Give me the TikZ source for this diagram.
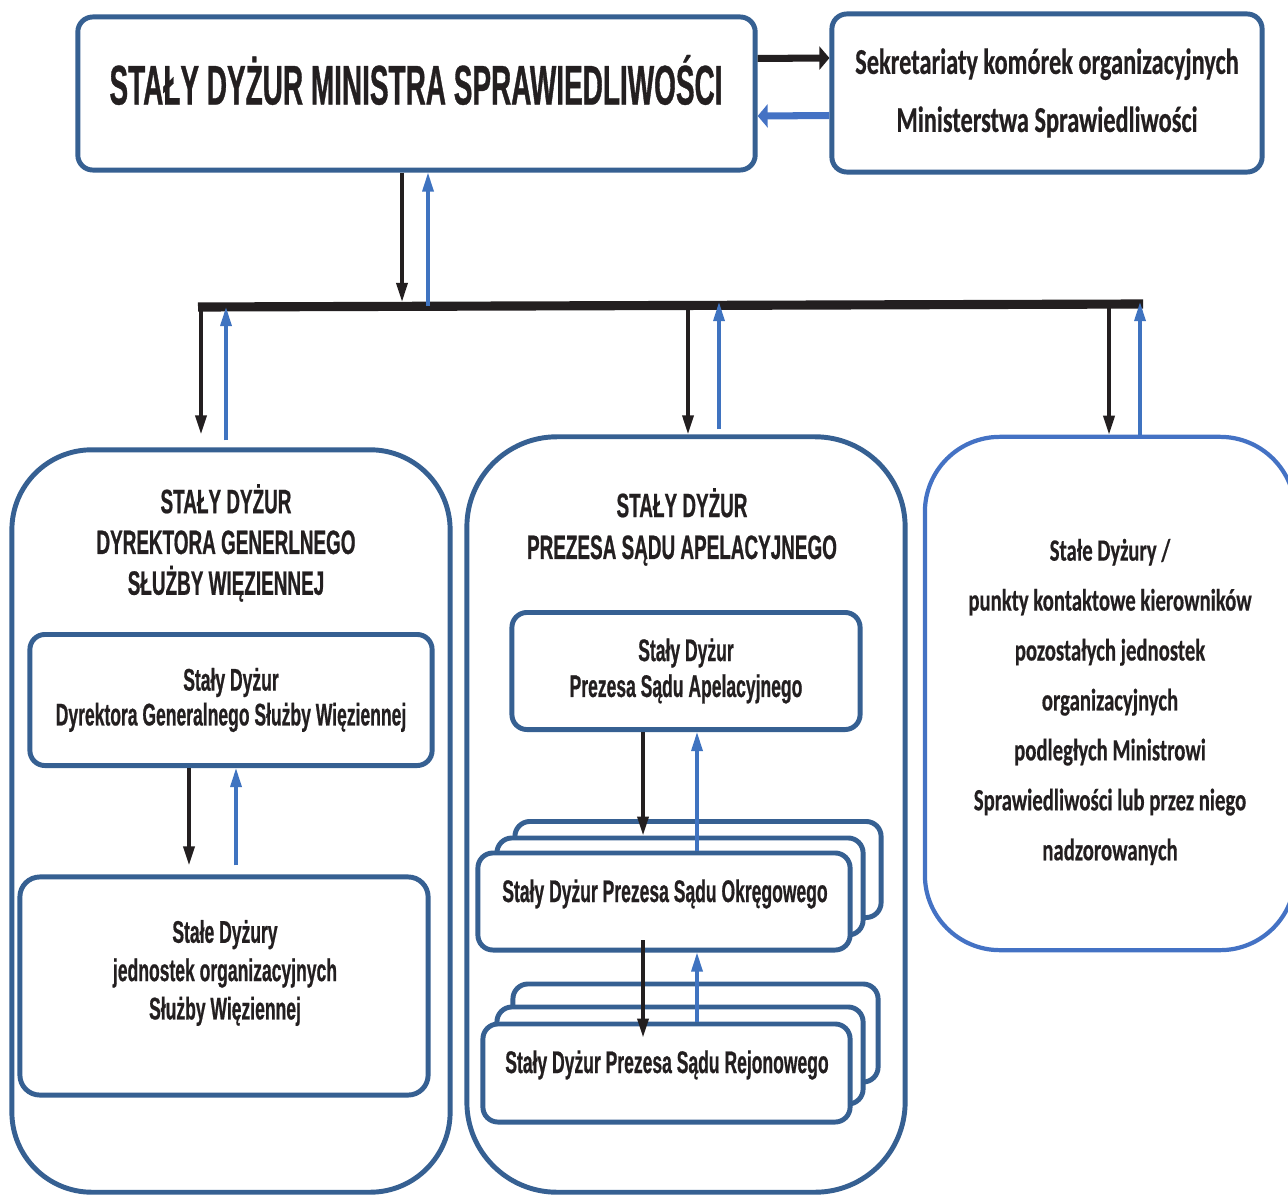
\documentclass[tikz,border=0pt]{standalone}
\usepackage{fontspec}
\setmainfont{Liberation Sans}
\newfontfamily\libnarrow{Liberation Sans}[FakeStretch=0.56,FakeBold=0.6]
\newfontfamily\libtitle{Liberation Sans}[FakeStretch=0.5,FakeBold=0.6]
\newfontfamily\calnarrow{Carlito}[FakeStretch=0.67,FakeBold=0.4]
\usetikzlibrary{arrows.meta,positioning}

\definecolor{frame}{HTML}{366092}
\definecolor{lblue}{HTML}{4472C4}
\definecolor{upblue}{HTML}{3F73C0}
\definecolor{ink}{HTML}{231F20}

\tikzset{
  box/.style={draw=frame,line width=1.4pt,rounded corners=0.15cm,fill=white,
    text=ink,align=center,inner sep=0pt},
  bigbox/.style={box,rounded corners=0.8cm},
  headtext/.style={text=ink,align=center,font=\libnarrow\bfseries\fontsize{9.6}{11.6}\selectfont},
  smalltext/.style={text=ink,align=center,font=\libnarrow\bfseries\fontsize{8.9}{10.2}\selectfont},
  dn/.style={draw=ink,line width=1pt,-{Triangle[length=1.9mm,width=1.1mm]}},
  up/.style={draw=upblue,line width=0.9pt,-{Triangle[length=1.9mm,width=1.1mm]}},
  side/.style={line width=2pt,-{Triangle[length=1mm,width=2.3mm]}}
}

\begin{document}
\begin{tikzpicture}[x=0.01cm,y=-0.01cm]
  \useasboundingbox (0,0) rectangle (1288,1194);
  \clip (0,0) rectangle (1288,1194);

  % top level
  \node[box,minimum width=6.77cm,minimum height=1.53cm] (min) at (416.5,93.5) {};
  \node[text=ink,font=\libtitle\bfseries\fontsize{15.9}{16}\selectfont] (mintxt) at (416,80)
    {STAŁY DYŻUR MINISTRA SPRAWIEDLIWOŚCI};
  \node[box,minimum width=4.3cm,minimum height=1.58cm,
    font=\calnarrow\bfseries\fontsize{10.35}{16.5}\selectfont] (sek) at (1047,93)
    {Sekretariaty komórek organizacyjnych\\Ministerstwa Sprawiedliwości};

  \draw[side,ink] ([yshift=3.5mm]min.east) -- ([yshift=3.5mm]sek.west);
  \draw[side,lblue] ([yshift=-2.25mm]sek.west) -- ([yshift=-2.25mm]min.east);

  % bus
  \coordinate (busL) at (198,307);
  \coordinate (busR) at (1143,304);
  \draw[ink,line width=2.6pt] (busL) -- (busR);

  % second level
  \node[bigbox,minimum width=4.38cm,minimum height=7.42cm] (sgw) at (231,821) {};
  \node[headtext] (sgwtxt) at (226,543) {STAŁY DYŻUR\\DYREKTORA GENERLNEGO\\SŁUŻBY WIĘZIENNEJ};
  \node[bigbox,rounded corners=0.9cm,minimum width=4.38cm,minimum height=7.55cm] (sa) at (686,814.5) {};
  \node[headtext,font=\libnarrow\bfseries\fontsize{9.6}{11.9}\selectfont] (satxt) at (682,527)
    {STAŁY DYŻUR\\PREZESA SĄDU APELACYJNEGO};
  \node[bigbox,draw=lblue,line width=1.2pt,rounded corners=0.75cm,minimum width=3.7cm,
    minimum height=5.13cm] (inne) at (1110,693.5) {};
  \node[text=ink,align=center,font=\calnarrow\bfseries\fontsize{8.8}{14.2}\selectfont] (innetxt) at (1110,702)
    {Stałe Dyżury /\\punkty kontaktowe kierowników\\pozostałych jednostek\\organizacyjnych\\
     podległych Ministrowi\\Sprawiedliwości lub przez niego\\nadzorowanych};

  \coordinate (m1) at (402,302);
  \coordinate (m2) at (428,306);
  \coordinate (l1) at (201,307);
  \coordinate (l2) at (226,307);
  \coordinate (s1) at (688,306);
  \coordinate (s2) at (719,302);
  \coordinate (r1) at (1109,305);
  \coordinate (r2) at (1140,302);
  \draw[dn] (min.south -| m1) -- (m1);
  \draw[up] (m2) -- (min.south -| m2);
  \draw[dn,shorten >=1.3mm] (l1) -- (l1 |- sgw.north);
  \draw[up,shorten <=0.7mm] (l2 |- sgw.north) -- (l2);
  \draw[dn] (s1) -- (s1 |- sa.north);
  \draw[up,shorten <=0.5mm] (s2 |- sa.north) -- (s2);
  \draw[dn] (r1) -- (r1 |- inne.north);
  \draw[up] (r2 |- inne.north) -- (r2);

  % prison service
  \node[box,smalltext,minimum width=4.02cm,minimum height=1.31cm,
    font=\libnarrow\bfseries\fontsize{8.9}{9.9}\selectfont] (dgsw) at (231,700)
    {Stały Dyżur\\Dyrektora Generalnego Służby Więziennej};
  \node[box,rounded corners=0.2cm,minimum width=4.08cm,minimum height=2.18cm] (jsw) at (224,986) {};
  \node[smalltext,font=\libnarrow\bfseries\fontsize{8.9}{10.9}\selectfont] (jswtxt) at (225,973)
    {Stałe Dyżury\\jednostek organizacyjnych\\Służby Więziennej};
  \coordinate (p1) at (189,800);
  \coordinate (p2) at (236,800);
  \draw[dn,shorten >=0.9mm] (dgsw.south -| p1) -- (jsw.north -| p1);
  \draw[up,shorten <=0.9mm] (jsw.north -| p2) -- (dgsw.south -| p2);

  % courts
  \node[box,smalltext,minimum width=3.48cm,minimum height=1.17cm] (psa) at (686,671)
    {Stały Dyżur\\Prezesa Sądu Apelacyjnego};
  \node[box,minimum width=3.66cm,minimum height=0.96cm] (okr3) at (698,869.5) {};
  \node[box,minimum width=3.66cm,minimum height=0.97cm] (okr2) at (680,886.5) {};
  \node[box,minimum width=3.72cm,minimum height=0.97cm] (okr) at (664,901.5) {};
  \node[smalltext] (okrtxt) at (665,894) {Stały Dyżur Prezesa Sądu Okręgowego};
  \node[box,minimum width=3.65cm,minimum height=0.98cm] (rej3) at (695.5,1033) {};
  \node[box,minimum width=3.66cm,minimum height=0.97cm] (rej2) at (680,1055.5) {};
  \node[box,minimum width=3.67cm,minimum height=0.98cm] (rej) at (666.5,1073) {};
  \node[smalltext] (rejtxt) at (667,1065) {Stały Dyżur Prezesa Sądu Rejonowego};
  \coordinate (c1) at (643,800);
  \coordinate (c2) at (697,800);
  \draw[dn] (psa.south -| c1) -- (okr2.north -| c1);
  \draw[up] (okr.north -| c2) -- (psa.south -| c2);
  \draw[dn,shorten <=-1.2mm,shorten >=-1.6mm] (okr.south -| c1) -- (rej.north -| c1);
  \draw[up] (rej.north -| c2) -- (okr.south -| c2);
\end{tikzpicture}
\end{document}
